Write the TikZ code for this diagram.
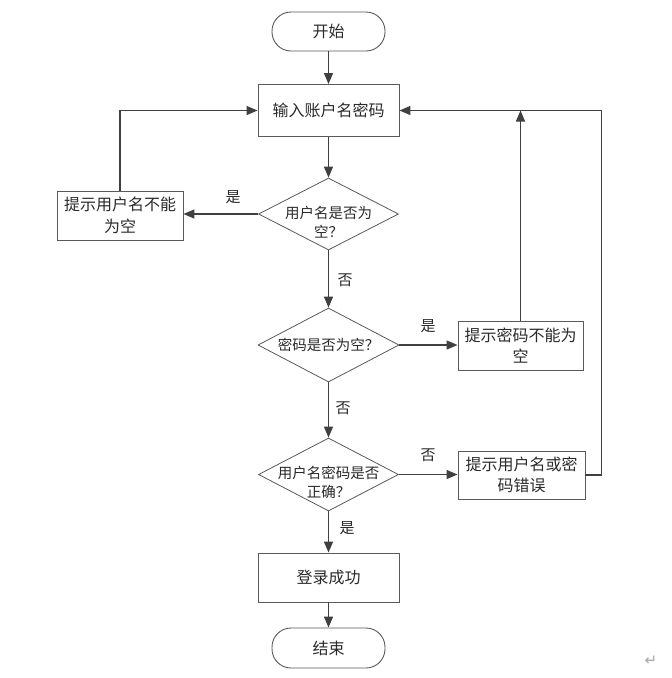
\documentclass[tikz,border=0pt]{standalone}
\usepackage{fontspec}
\setmainfont{Noto Sans CJK SC}
\newfontfamily\symfont{DejaVu Sans}
\usetikzlibrary{shapes.geometric,arrows.meta}
\definecolor{linec}{HTML}{404040}
\definecolor{boxc}{HTML}{5A5A5A}
\definecolor{txtc}{HTML}{2A2A2A}
\begin{document}
\begin{tikzpicture}[x=1pt,y=-1pt,
 boxnode/.style={draw=boxc, line width=0.9pt, rectangle, align=center, text=txtc, font=\fontsize{16}{21.5}\selectfont, inner sep=0},
 termnode/.style={boxnode, rounded corners=19pt},
 dianode/.style={draw=boxc, line width=0.8pt, diamond, inner sep=0},
 diatext/.style={align=center, text=txtc, font=\fontsize{14.5}{19}\selectfont, inner sep=0},
 lbl/.style={text=txtc, font=\fontsize{15}{17}\selectfont, inner sep=0},
 conn/.style={draw=linec, line width=1.4pt, -{Triangle[length=11pt,width=9pt]}}]
\useasboundingbox (0,0) rectangle (672,678);
\fill[white] (0,0) rectangle (672,678);
% nodes
\node[termnode, minimum width=113pt, minimum height=39pt] (start) at (328.5,31.5) {开始};
\node[boxnode, minimum width=141pt, minimum height=52pt] (input) at (328.5,110.5) {输入账户名密码};
\node[dianode, minimum width=140pt, minimum height=72pt] (d1) at (328.5,214) {};
\node[diatext] (d1t) at (328.5,222) {用户名是否为\\空？};
\node[boxnode, minimum width=126pt, minimum height=49pt] (lbox) at (120,215.5) {提示用户名不能\\为空};
\node[dianode, minimum width=141pt, minimum height=74pt] (d2) at (328.5,345) {};
\node[diatext] (d2t) at (328.5,345) {密码是否为空？};
\node[boxnode, minimum width=125pt, minimum height=49pt] (rbox1) at (520.5,345.5) {提示密码不能为\\空};
\node[dianode, minimum width=140pt, minimum height=73pt] (d3) at (328.5,474.5) {};
\node[diatext] (d3t) at (328.5,482) {用户名密码是否\\正确？};
\node[boxnode, minimum width=127pt, minimum height=48pt] (rbox2) at (521.5,475) {提示用户名或密\\码错误};
\node[boxnode, minimum width=141pt, minimum height=49pt] (login) at (328.5,577.5) {登录成功};
\node[termnode, minimum width=113pt, minimum height=40pt] (end) at (328.5,648) {结束};
\coordinate (rt) at (601.5,110.5);
% connectors
\draw[conn] (start) -- (input);
\draw[conn] (input) -- (d1);
\draw[conn] (d1.west) -- (d1.west -| lbox.east);
\draw[conn] (lbox.north) |- (input.west);
\draw[conn] (d1) -- (d2);
\draw[conn] (d2.east) -- (d2.east -| rbox1.west);
\draw[conn] (rbox1.north) -- (rbox1.north |- input.east);
\draw[conn] (d2) -- (d3);
\draw[conn] (d3.east) -- (d3.east -| rbox2.west);
\draw[conn] (rbox2.east) -| (rt) -- (input.east);
\draw[conn] (d3) -- (login);
\draw[conn] (login) -- (end);
% labels
\node[lbl] (l1) at (233,197) {是};
\node[lbl] (l2) at (345,280) {否};
\node[lbl] (l3) at (428,326) {是};
\node[lbl] (l4) at (343,408) {否};
\node[lbl] (l5) at (428,455) {否};
\node[lbl] (l6) at (347,528) {是};
\node[text=black!35, font=\symfont\fontsize{15}{15}\selectfont, inner sep=0] (pm) at (651,661) {↵};
\end{tikzpicture}
\end{document}
